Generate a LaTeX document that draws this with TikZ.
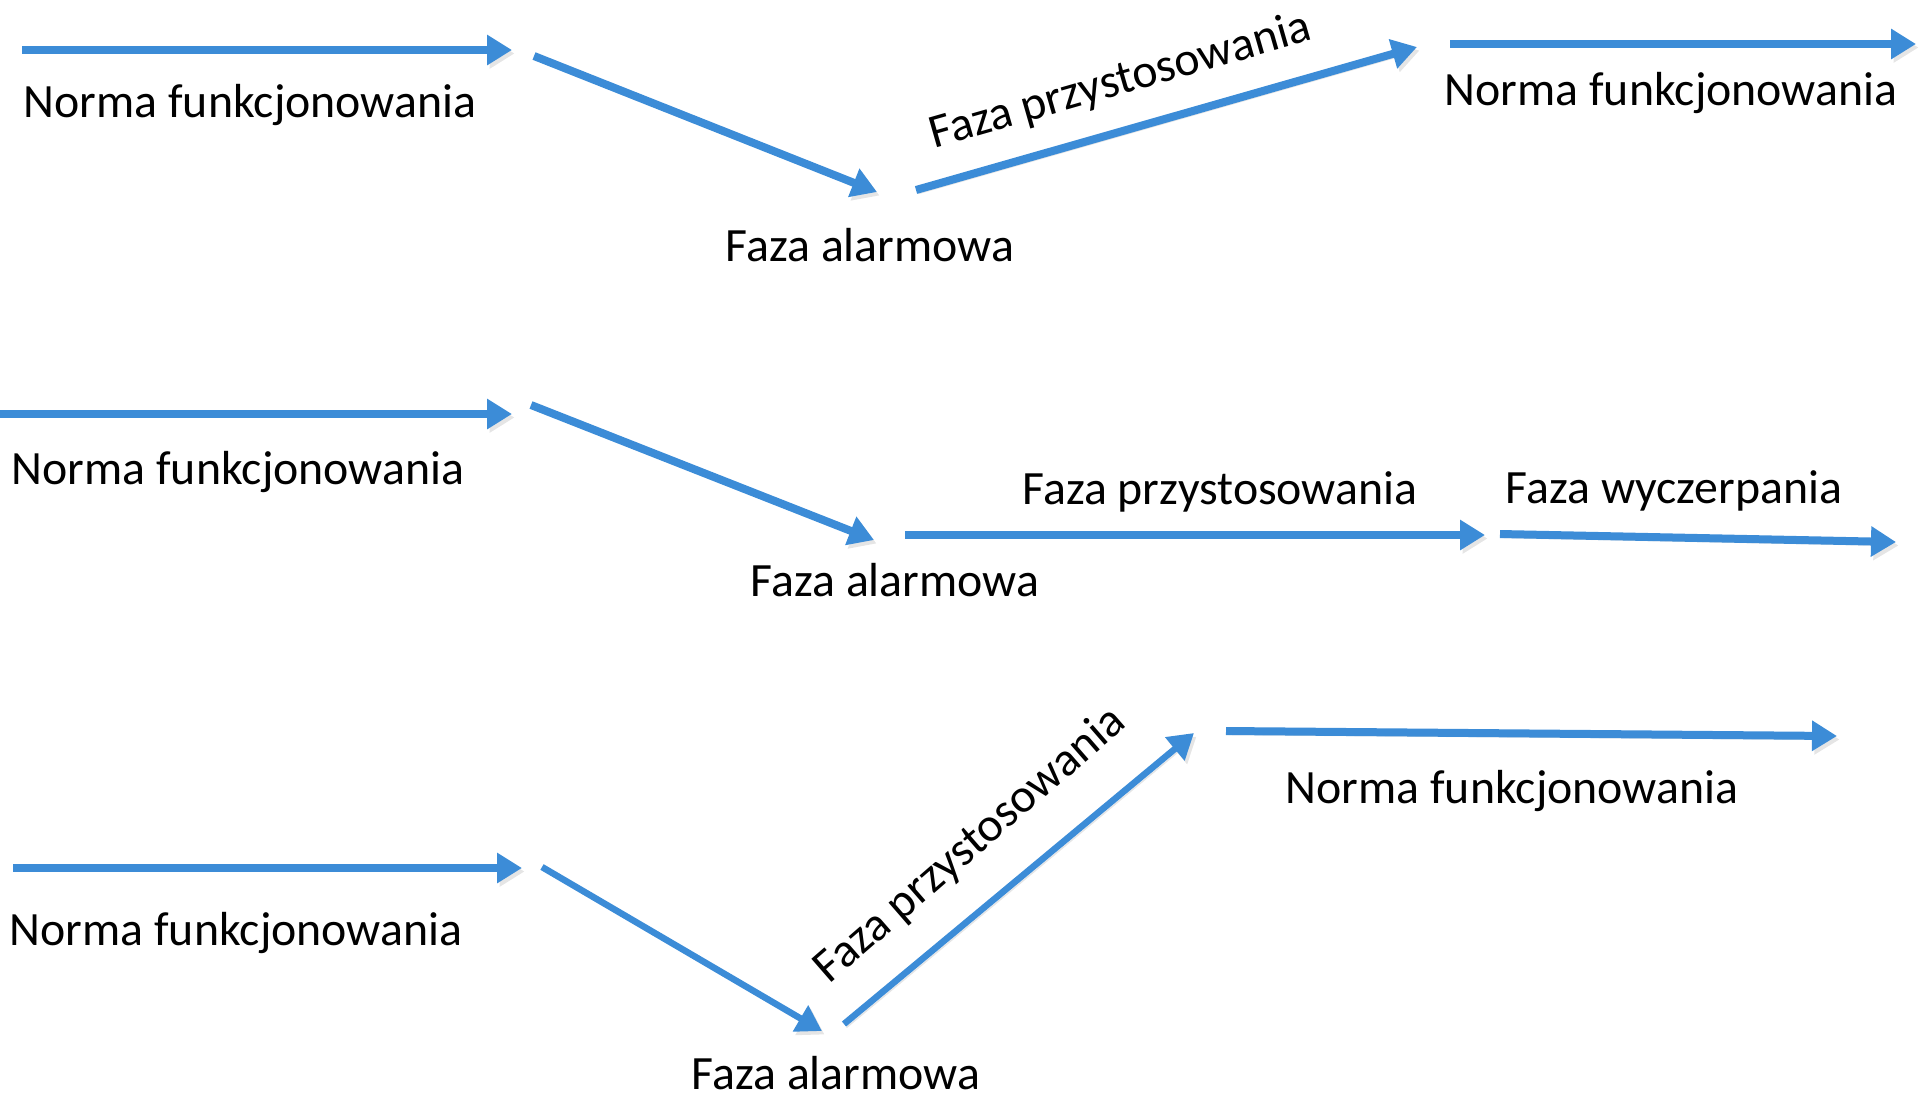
\documentclass[tikz,border=0pt]{standalone}
\usepackage{fontspec}
\setmainfont{Carlito}
\usetikzlibrary{positioning, arrows.meta}
\definecolor{phase}{RGB}{60,140,215}
\tikzset{
  phasearrow/.style={draw=phase, line width=0.8mm, -{Triangle[length=2.5mm,width=2.9mm]},
    preaction={draw=black!10, transform canvas={shift={(0.25mm,-0.35mm)}}}},
  lbl/.style={anchor=base, font=\fontsize{13.6pt}{16pt}\selectfont}
}
\begin{document}
\begin{tikzpicture}[x=0.1mm,y=-0.1mm,every node/.style={inner sep=0,outer sep=0}]
      \useasboundingbox (0,0) rectangle (1920,1092);

      \coordinate(a1s) at (22,50);    \coordinate(a1e) at (512,50);
      \coordinate(a2s) at (534,56);   \coordinate(a2e) at (877,192);
      \coordinate(a3s) at (916,190);  \coordinate(a3e) at (1417,47);
      \coordinate(a4s) at (1450,44);  \coordinate(a4e) at (1916,44);

      \node(norma1)[lbl] at (250,117) {Norma funkcjonowania};
      \node(alarm1)[lbl] at (870,261) {Faza alarmowa};
      \node(przyst1)[lbl,rotate=16] at (1124,94) {Faza przystosowania};
      \node(normb1)[lbl] at (1671,105) {Norma funkcjonowania};

      \draw[phasearrow](a1s)--(a1e);
      \draw[phasearrow](a2s)--(a2e);
      \draw[phasearrow](a3s)--(a3e);
      \draw[phasearrow](a4s)--(a4e);


      \coordinate(b1s) at (0,414);    \coordinate(b1e) at (512,414);
      \coordinate(b2s) at (531,405);  \coordinate(b2e) at (874,540);
      \coordinate(b3s) at (905,535);  \coordinate(b3e) at (1485,535);
      \coordinate(b4s) at (1500,534); \coordinate(b4e) at (1896,542);

      \node(norma2)[lbl] at (238,484) {Norma funkcjonowania};
      \node(alarm2)[lbl] at (895,596) {Faza alarmowa};
      \node(przyst2)[lbl] at (1220,504) {Faza przystosowania};
      \node(wyczerp2)[lbl] at (1674,503) {Faza wyczerpania};

      \draw[phasearrow](b1s)--(b1e);
      \draw[phasearrow](b2s)--(b2e);
      \draw[phasearrow](b3s)--(b3e);
      \draw[phasearrow](b4s)--(b4e);


      \coordinate(c1s) at (13,868);   \coordinate(c1e) at (522,868);
      \coordinate(c2s) at (542,867);  \coordinate(c2e) at (822,1031);
      \coordinate(c3s) at (844,1024); \coordinate(c3e) at (1194,733);
      \coordinate(c4s) at (1226,731); \coordinate(c4e) at (1837,736);

      \node(norma3)[lbl] at (236,945) {Norma funkcjonowania};
      \node(alarm3)[lbl] at (836,1089) {Faza alarmowa};
      \node(przyst3)[lbl,rotate=41] at (979,855) {Faza przystosowania};
      \node(normb3)[lbl] at (1512,803) {Norma funkcjonowania};

      \draw[phasearrow](c1s)--(c1e);
      \draw[phasearrow,line width=0.65mm](c2s)--(c2e);
      \draw[phasearrow,line width=0.65mm](c3s)--(c3e);
      \draw[phasearrow](c4s)--(c4e);
    \end{tikzpicture}
\end{document}
